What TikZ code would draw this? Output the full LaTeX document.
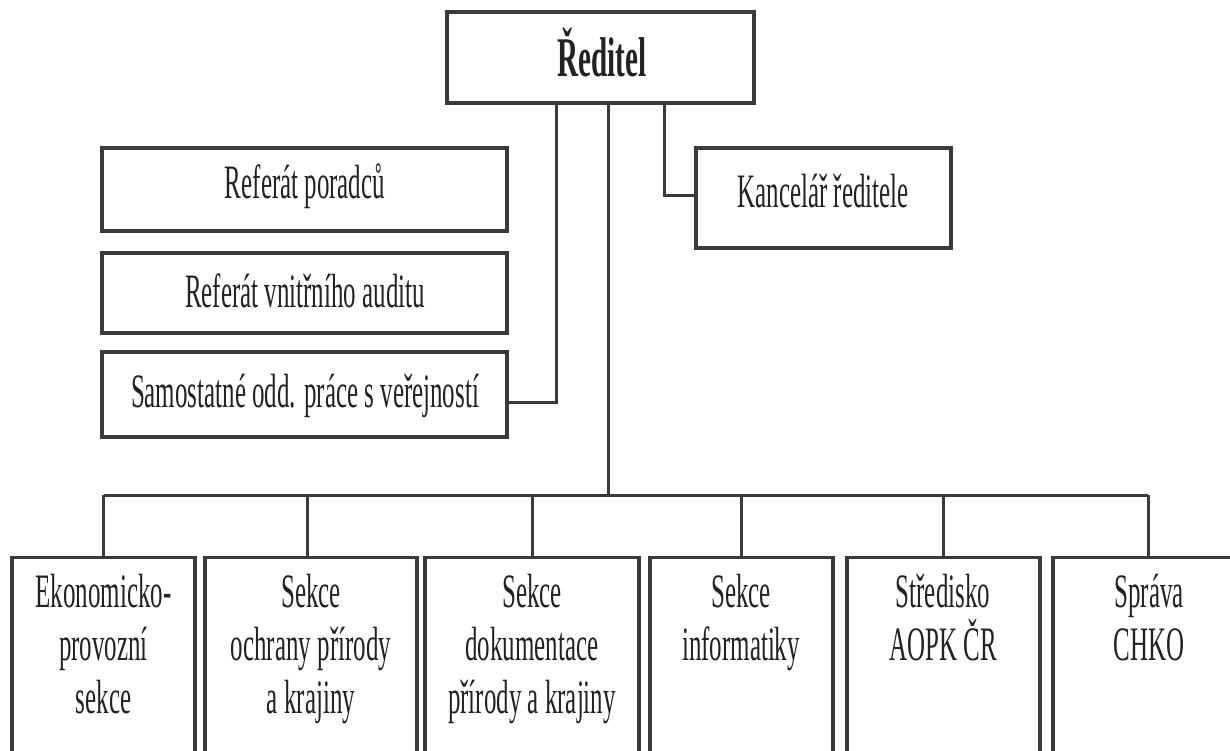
\documentclass[tikz,border=0pt]{standalone}
\usepackage{fontspec}
\setmainfont{Liberation Serif}[FakeStretch=0.52]
\definecolor{ln}{HTML}{3A3A3A}
\definecolor{tx}{HTML}{222222}
\tikzset{
  box/.style={draw=ln, line width=3.2pt, fill=white, inner sep=0pt},
  conn/.style={draw=ln, line width=3pt},
  lbl/.style={text=tx, inner sep=0pt, align=center, font=\fontsize{48}{53}\selectfont}
}
\begin{document}
\begin{tikzpicture}[x=1pt,y=-1pt]
\useasboundingbox (0,0) rectangle (1230,751);
\clip (0,0) rectangle (1230,751);
\fill[white] (0,0) rectangle (1230,751);
\coordinate (busL) at (104,495);
\coordinate (busR) at (1148,495);
\node[box, minimum width=307pt, minimum height=91pt] (dir) at (600.5,57.5) {};
\node[box, minimum width=405pt, minimum height=83pt] (ref1) at (304.5,189.5) {};
\node[box, minimum width=405pt, minimum height=80pt] (ref2) at (304.5,293) {};
\node[box, minimum width=405pt, minimum height=85pt] (ref3) at (304.5,394.5) {};
\node[box, minimum width=255pt, minimum height=100pt] (kanc) at (823.5,198) {};
\coordinate (bus) at (608,495);
\draw[conn] ([xshift=7.5pt]dir.south) -- (bus);
\draw[conn] (busL) -- (busR);
\draw[conn] ([xshift=-44.5pt]dir.south) |- ([yshift=-7.5pt]ref3.east);
\draw[conn] ([xshift=63.5pt]dir.south) |- ([yshift=2pt]kanc.west);
\node[box, minimum width=183pt, minimum height=250pt, anchor=north] (b1) at (103.5,556) {};
\node[box, minimum width=212pt, minimum height=250pt, anchor=north] (b2) at (311,556) {};
\node[box, minimum width=214pt, minimum height=250pt, anchor=north] (b3) at (532,556) {};
\node[box, minimum width=183pt, minimum height=250pt, anchor=north] (b4) at (741.5,556) {};
\node[box, minimum width=193pt, minimum height=250pt, anchor=north] (b5) at (943.5,556) {};
\node[box, minimum width=207pt, minimum height=250pt, anchor=north] (b6) at (1156.5,556) {};
\draw[conn] (b1.north) -- (b1.north |- busL);
\draw[conn] ([xshift=-4pt]b2.north) -- ([xshift=-4pt]b2.north |- busL);
\draw[conn] (b3.north) -- (b3.north |- busL);
\draw[conn] (b4.north) -- (b4.north |- busL);
\draw[conn] (b5.north) -- (b5.north |- busL);
\draw[conn] ([xshift=-8.5pt]b6.north) -- (busR);
% labels
\node[lbl, font=\fontsize{56}{60}\selectfont\bfseries] (tdir) at (602,52) {Ředitel};
\node[lbl] (t1) at (305,186) {Referát poradců};
\node[lbl] (t2) at (305,291) {Referát vnitřního auditu};
\node[lbl] (t3) at (305,396) {Samostatné odd. práce s veřejností};
\node[lbl] (tk) at (823,191) {Kancelář ředitele};
\node[lbl, anchor=north] (tb1) at (b1.north |- 0,574) {Ekonomicko-\\provozní\\sekce};
\node[lbl, anchor=north] (tb2) at (b2.north |- 0,574) {Sekce\\ochrany přírody\\a krajiny};
\node[lbl, anchor=north] (tb3) at (b3.north |- 0,574) {Sekce\\dokumentace\\přírody a krajiny};
\node[lbl, anchor=north] (tb4) at (741,574) {Sekce\\informatiky};
\node[lbl, anchor=north] (tb5) at (943,574) {Středisko\\AOPK ČR};
\node[lbl, anchor=north] (tb6) at (1149,574) {Správa\\CHKO};
\end{tikzpicture}
\end{document}
